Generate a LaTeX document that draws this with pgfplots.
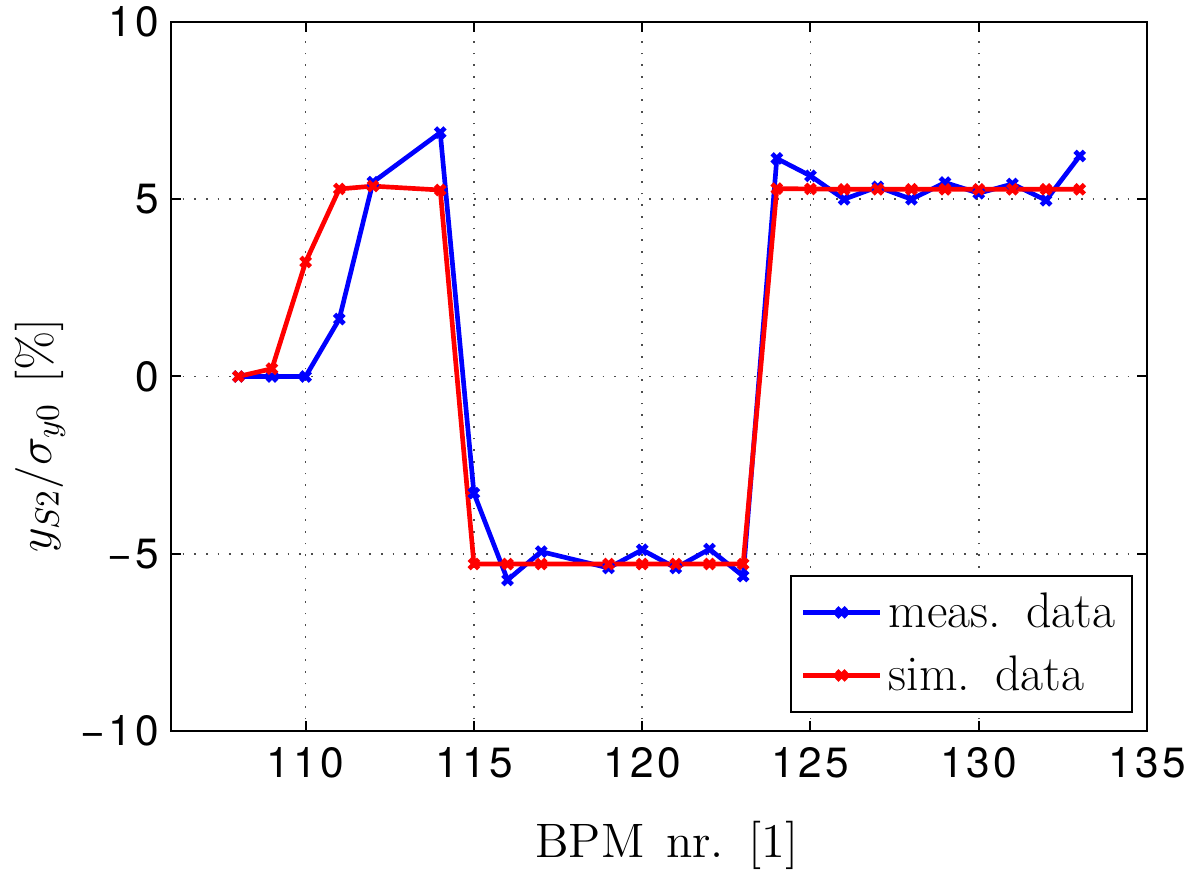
\documentclass[border=0pt]{standalone}
\usepackage{pgfplots}
\pgfplotsset{compat=1.18}
\usepackage{fontspec}
\newfontfamily\heros[LetterSpace=8]{TeX Gyre Heros}
\begin{document}
\begin{tikzpicture}
\begin{axis}[
    scale only axis,
    width=292.8pt, height=212.7pt,
    xmin=106, xmax=135, ymin=-10, ymax=10,
    xtick={110,115,120,125,130,135},
    xticklabels={110,115,120,125,130,135},
    ytick={-10,-5,0,5,10},
    yticklabels={−10,−5,0,5,10},
    ticklabel style={font=\fontsize{12.7}{15}\selectfont\heros},
    xticklabel style={yshift=-1.5pt},
    tick align=inside,
    major tick length=3pt,
    tick style={black, line width=0.6pt},
    axis line style={line width=0.8pt},
    grid=major,
    major grid style={black!70, line width=0.5pt, dash pattern=on 0.5pt off 3pt},
    xlabel={BPM\hspace{0.45em}nr.\hspace{0.5em}[1]},
    ylabel={$y_{S2}/\sigma_{y0}$\hspace{0.4em}[\%]},
    label style={font=\fontsize{14.5}{17}\selectfont},
    xlabel style={at={(axis description cs:0.508,-0.1777)}, anchor=base},
    ylabel style={at={(axis description cs:-0.134,0.417)}, anchor=center},
    legend style={at={(axis description cs:1,0)}, anchor=south east,
        xshift=-4.2pt, yshift=5.4pt, draw=black, line width=0.6pt,
        font=\fontsize{15}{18}\selectfont, row sep=3pt,
        inner xsep=3pt, inner ysep=3pt},
    legend cell align=left,
    legend image code/.code={%
        \draw[mark repeat=2, mark phase=2] plot coordinates {(0pt,0pt) (11.5pt,0pt) (23pt,0pt)};},
]
\addplot[blue, line width=1.4pt, mark=x, mark size=2pt, mark options={solid, line width=1.4pt}]
coordinates {
(108,0)(109,0)(110,0)(111,1.62)(112,5.48)(114,6.88)(115,-3.29)(116,-5.74)
(117,-4.94)(119,-5.40)(120,-4.89)(121,-5.40)(122,-4.87)(123,-5.63)(124,6.15)
(125,5.66)(126,5.0)(127,5.35)(128,5.0)(129,5.47)(130,5.17)(131,5.43)(132,4.97)(133,6.22)
};
\addlegendentry{meas.\hspace{0.5em}data}
\addplot[red, line width=1.4pt, mark=x, mark size=2pt, mark options={solid, line width=1.4pt}]
coordinates {
(108,0)(109,0.22)(110,3.23)(111,5.29)(112,5.37)(114,5.26)(115,-5.29)(116,-5.29)
(117,-5.29)(119,-5.29)(120,-5.29)(121,-5.29)(122,-5.29)(123,-5.29)(124,5.30)
(125,5.29)(126,5.28)(127,5.28)(128,5.28)(129,5.28)(130,5.28)(131,5.28)(132,5.28)(133,5.28)
};
\addlegendentry{sim.\hspace{0.5em}data}
\end{axis}
\pgfresetboundingbox
\path[use as bounding box] ([xshift=-51.3pt, yshift=-42.3pt]current axis.south west)
    rectangle ([xshift=13.2pt, yshift=6.6pt]current axis.north east);
\end{tikzpicture}
\end{document}
